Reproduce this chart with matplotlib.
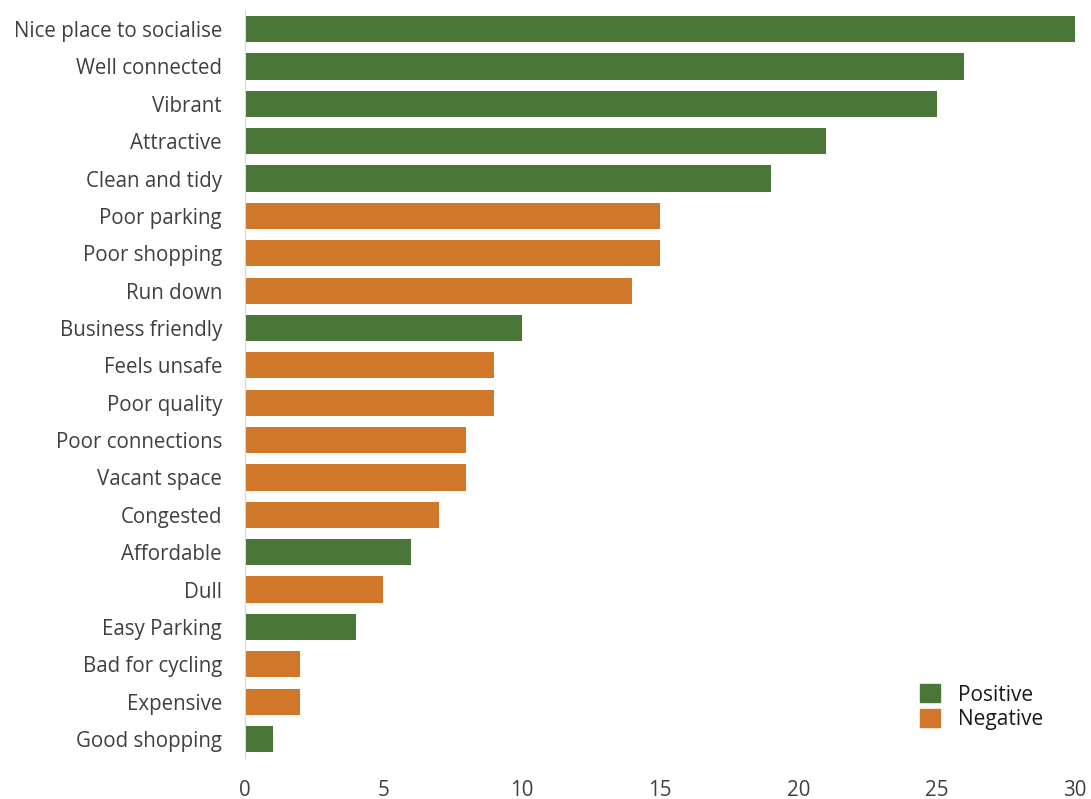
import matplotlib.pyplot as plt
from matplotlib.patches import Patch

plt.rcParams['font.family'] = ['Open Sans', 'DejaVu Sans']

# Data, top to bottom as shown
labels = ["Nice place to socialise", "Well connected", "Vibrant", "Attractive",
          "Clean and tidy", "Poor parking", "Poor shopping", "Run down",
          "Business friendly", "Feels unsafe", "Poor quality", "Poor connections",
          "Vacant space", "Congested", "Affordable", "Dull", "Easy Parking",
          "Bad for cycling", "Expensive", "Good shopping"]
values = [30, 26, 25, 21, 19, 15, 15, 14, 10, 9, 9, 8, 8, 7, 6, 5, 4, 2, 2, 1]
sentiment = ["Positive", "Positive", "Positive", "Positive", "Positive",
             "Negative", "Negative", "Negative", "Positive", "Negative",
             "Negative", "Negative", "Negative", "Negative", "Positive",
             "Negative", "Positive", "Negative", "Negative", "Positive"]

colours = {"Positive": "#4A7638", "Negative": "#D0772A"}

fig = plt.figure(figsize=(10.91, 7.99), dpi=100)
ax = fig.add_axes([0.2246, 0.0517, 0.7607, 0.9353])

pos = list(range(len(labels)))
ax.barh(pos, values, height=0.7, color=[colours[s] for s in sentiment])

ax.set_yticks(pos)
ax.set_yticklabels(labels)
ax.set_ylim(len(labels) - 0.5, -0.5)
ax.set_xlim(0, 30)
ax.set_xticks(range(0, 31, 5))

for side in ["top", "right", "bottom"]:
    ax.spines[side].set_visible(False)
ax.spines["left"].set_color("#D9D9D9")
ax.tick_params(axis="both", length=0, labelsize=14.8, labelcolor="#404040")
ax.tick_params(axis="y", pad=16.5)
ax.tick_params(axis="x", pad=16)

handles = [Patch(color=colours["Positive"], label="Positive"),
           Patch(color=colours["Negative"], label="Negative")]
ax.legend(handles=handles, loc="lower left", bbox_to_anchor=(0.826, 0.063),
          bbox_transform=fig.transFigure, frameon=False, fontsize=15,
          handlelength=0.95, handleheight=0.95, handletextpad=0.9,
          labelspacing=0.15, labelcolor="#1A1A1A")

fig.savefig("out.png", dpi=100)
